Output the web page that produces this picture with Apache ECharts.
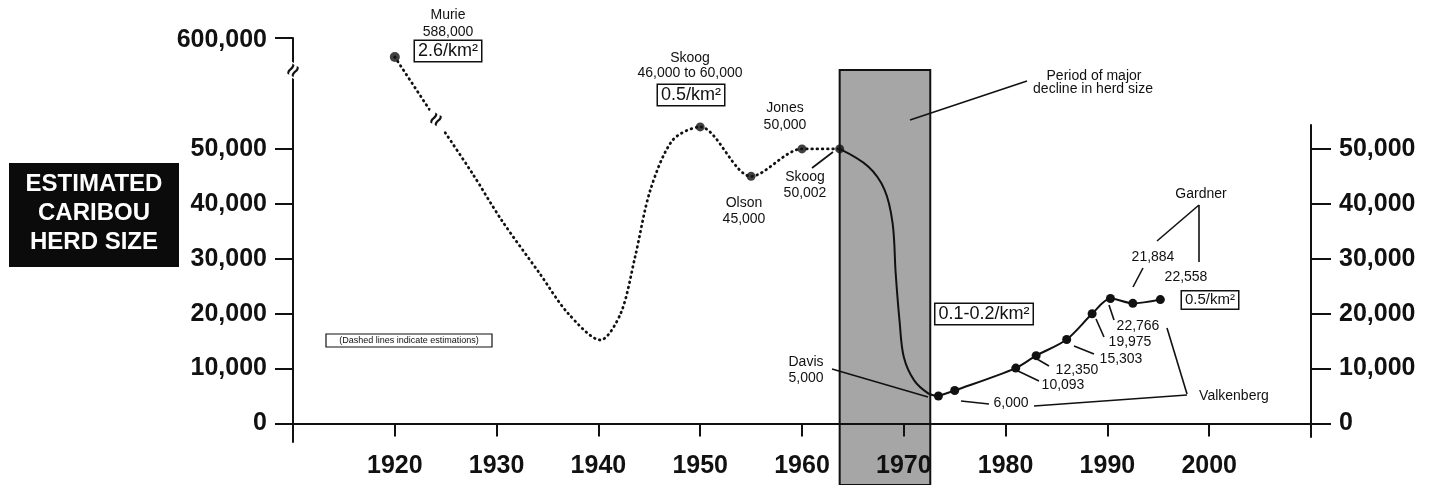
<!DOCTYPE html>
<html>
<head>
<meta charset="utf-8">
<title>Estimated caribou herd size</title>
<script src="https://cdn.jsdelivr.net/npm/echarts@6/dist/echarts.min.js"></script>
<style>
  html, body { margin: 0; padding: 0; background: #fff; }
  #chart { width: 1430px; height: 485px; }
</style>
</head>
<body>
<div id="chart"></div>
<script>
// --- values ---

// Murie's 1920 estimate sits above the axis break, on its own (compressed) scale
const murieYears = [1920, 1924.1];
const murieCounts = [588000, 548000];

// dotted estimate curve below the break
const estimateYears = [1924.1, 1927.6, 1930.5, 1934.2, 1937, 1940.2, 1942.2, 1943.6, 1945.1, 1947.3, 1950, 1955, 1960, 1963.7];
const estimateCounts = [55300, 45600, 37000, 27400, 20100, 15200, 20100, 30300, 42500, 51600, 54000, 45000, 50000, 50002];

// named estimates: Skoog, Olson, Jones, Skoog
const estimatePointYears = [1950, 1955, 1960, 1963.7];
const estimatePointCounts = [54000, 45000, 50000, 50002];

// solid curve through the period of major decline
const declineYears = [1963.7, 1966.5, 1968.1, 1968.9, 1969.2, 1969.6, 1970.0, 1971.0, 1972.4, 1973.4];
const declineCounts = [50002, 46800, 42600, 36500, 27400, 18300, 12100, 7900, 5500, 5000];

// counts after the decline (Davis, Valkenberg, Gardner)
const countYears = [1973.4, 1975, 1981, 1983, 1986, 1988.5, 1990.3, 1992.5, 1995.2];
const countValues = [5000, 6000, 10093, 12350, 15303, 19975, 22766, 21884, 22558];

const yearTicks = [1920, 1930, 1940, 1950, 1960, 1970, 1980, 1990, 2000];
const countTicks = [0, 10000, 20000, 30000, 40000, 50000];
const upperTicks = [600000];
const declinePeriod = [1963.7, 1972.6];

// --- layout ---
const FONT = '"Liberation Sans", Arial, sans-serif';
const INK = '#111';
const W = 1430, H = 485;
const PLOT_LEFT = 293, PLOT_RIGHT = 1311;
const TOP_Y = 38, LEFT_BOTTOM_Y = 442, ZERO_Y = 423.5;
const RIGHT_TOP_Y = 125, RIGHT_BOTTOM_Y = 437;
const PX_PER_COUNT = 54.92 / 10000;     // below the break
const PX_PER_COUNT_UPPER = 19 / 12000;  // above the break

const lowerMin = -(LEFT_BOTTOM_Y - ZERO_Y) / PX_PER_COUNT;
const lowerMax = (ZERO_Y - TOP_Y) / PX_PER_COUNT;
const upperMax = upperTicks[0];
const upperMin = upperMax - (LEFT_BOTTOM_Y - TOP_Y) / PX_PER_COUNT_UPPER;
const rightMin = -(RIGHT_BOTTOM_Y - ZERO_Y) / PX_PER_COUNT;
const rightMax = (ZERO_Y - RIGHT_TOP_Y) / PX_PER_COUNT;

const fmt = v => v.toLocaleString('en-US');
const pairs = (xs, ys) => xs.map((x, i) => [x, ys[i]]);

const tickLabel = { fontSize: 25, fontWeight: 'bold', color: INK, fontFamily: FONT };
const dotted = { color: INK, width: 2.8, type: [0.6, 4.6], cap: 'round' };

function text(x, y, s, size, extra) {
  return {
    type: 'text', x, y, z: 60, silent: true,
    style: Object.assign({
      text: s, fontSize: size, fontFamily: FONT, fill: INK,
      align: 'center', verticalAlign: 'middle'
    }, extra || {})
  };
}
function boxed(x, y, s, size) {
  return text(x, y, s, size, {
    borderColor: INK, borderWidth: 1.5, padding: [2, 3, 0, 3], backgroundColor: '#fff'
  });
}
function line(x1, y1, x2, y2) {
  return { type: 'line', z: 55, silent: true, shape: { x1, y1, x2, y2 }, style: { stroke: INK, lineWidth: 1.6 } };
}
function breakMark(x, y) {
  const el = text(x, y, '\u2248', 22, { fontWeight: 'bold', backgroundColor: '#fff', padding: [0, 1] });
  el.rotation = Math.PI / 3;
  return el;
}

const chart = echarts.init(document.getElementById('chart'));

const gridBase = { left: PLOT_LEFT, right: W - PLOT_RIGHT, outerBoundsMode: 'none', containLabel: false };

const option = {
  backgroundColor: '#fff',
  animation: false,
  grid: [
    Object.assign({ top: TOP_Y, bottom: H - LEFT_BOTTOM_Y }, gridBase),
    Object.assign({ top: RIGHT_TOP_Y, bottom: H - RIGHT_BOTTOM_Y }, gridBase),
    Object.assign({ top: 70, bottom: 0 }, gridBase)
  ],
  xAxis: [
    {
      type: 'value', gridIndex: 0, min: 1910, max: 2010, z: 10,
      splitLine: { show: false },
      axisLine: { onZero: true, onZeroAxisIndex: 0, lineStyle: { color: INK, width: 2 } },
      axisTick: { customValues: yearTicks, length: 13, lineStyle: { color: INK, width: 2 } },
      // labels are laid out from the grid's bottom edge, not from the zero line
      axisLabel: Object.assign({ customValues: yearTicks, margin: 12, formatter: v => String(v) }, tickLabel)
    },
    { type: 'value', gridIndex: 1, min: 1910, max: 2010, show: false },
    { type: 'value', gridIndex: 2, min: 1910, max: 2010, show: false }
  ],
  yAxis: [
    {
      type: 'value', gridIndex: 0, position: 'left', min: lowerMin, max: lowerMax, z: 10,
      splitLine: { show: false },
      axisLine: { show: true, lineStyle: { color: INK, width: 2 } },
      axisTick: { show: true, customValues: countTicks, length: 18, lineStyle: { color: INK, width: 2 } },
      axisLabel: Object.assign({ customValues: countTicks, margin: 26, formatter: v => fmt(v) }, tickLabel)
    },
    {
      type: 'value', gridIndex: 0, position: 'left', min: upperMin, max: upperMax, z: 10,
      splitLine: { show: false },
      axisLine: { show: false },
      axisTick: { show: true, customValues: upperTicks, length: 18, lineStyle: { color: INK, width: 2 } },
      axisLabel: Object.assign({ customValues: upperTicks, margin: 26, formatter: v => fmt(v), verticalAlign: 'top', padding: [-10, 0, 0, 0] }, tickLabel)
    },
    {
      type: 'value', gridIndex: 1, position: 'right', min: rightMin, max: rightMax, z: 10,
      splitLine: { show: false },
      axisLine: { show: true, lineStyle: { color: INK, width: 2 } },
      axisTick: { show: true, customValues: countTicks, length: 20, lineStyle: { color: INK, width: 2 } },
      axisLabel: Object.assign({ customValues: countTicks, margin: 28, formatter: v => fmt(v) }, tickLabel)
    },
    { type: 'value', gridIndex: 2, min: 0, max: 1, show: false }
  ],
  series: [
    {
      name: 'decline period', type: 'line', xAxisIndex: 2, yAxisIndex: 3, z: 1,
      data: [], silent: true,
      markArea: {
        silent: true,
        itemStyle: { color: '#a6a6a6', borderColor: INK, borderWidth: 2 },
        data: [[{ xAxis: declinePeriod[0] }, { xAxis: declinePeriod[1] }]]
      }
    },
    {
      name: 'Murie', type: 'line', xAxisIndex: 0, yAxisIndex: 1, z: 3,
      data: pairs(murieYears, murieCounts), showSymbol: false,
      lineStyle: dotted
    },
    {
      name: 'estimates', type: 'line', xAxisIndex: 0, yAxisIndex: 0, z: 3,
      data: pairs(estimateYears, estimateCounts), showSymbol: false, smooth: 0.3,
      lineStyle: dotted
    },
    {
      name: 'decline', type: 'line', xAxisIndex: 0, yAxisIndex: 0, z: 3,
      data: pairs(declineYears, declineCounts), showSymbol: false, smooth: 0.35,
      lineStyle: { color: INK, width: 2 }
    },
    {
      name: 'counts', type: 'line', xAxisIndex: 0, yAxisIndex: 0, z: 4,
      data: pairs(countYears, countValues), smooth: 0.3,
      symbol: 'circle', symbolSize: 9, itemStyle: { color: INK },
      lineStyle: { color: INK, width: 2 }
    },
    {
      name: 'estimate points', type: 'scatter', xAxisIndex: 0, yAxisIndex: 0, z: 4,
      data: pairs(estimatePointYears, estimatePointCounts),
      symbolSize: 9, itemStyle: { color: INK }
    },
    {
      name: 'Murie point', type: 'scatter', xAxisIndex: 0, yAxisIndex: 1, z: 4,
      data: [[murieYears[0], murieCounts[0]]],
      symbolSize: 10, itemStyle: { color: INK }
    }
  ],
  graphic: [
    // title block
    { type: 'rect', z: 50, silent: true, shape: { x: 9, y: 163, width: 170, height: 104 }, style: { fill: '#0b0b0b' } },
    text(94, 213, 'ESTIMATED\nCARIBOU\nHERD SIZE', 24, { fill: '#fff', fontWeight: 'bold', lineHeight: 29 }),

    // note
    { type: 'rect', z: 50, silent: true, shape: { x: 326, y: 334, width: 166, height: 13 }, style: { fill: '#fff', stroke: INK, lineWidth: 1.2 } },
    text(409, 341, '(Dashed lines indicate estimations)', 9),

    // axis breaks
    breakMark(294, 71),
    breakMark(437, 120),

    // Murie
    text(448, 15, 'Murie', 14),
    text(448, 32, fmt(murieCounts[0]), 14),
    boxed(448, 51, '2.6/km\u00b2', 18),

    // Skoog (1950)
    text(690, 58, 'Skoog', 14),
    text(690, 73, '46,000 to 60,000', 14),
    boxed(691, 95, '0.5/km\u00b2', 18),

    // Jones, Olson, Skoog
    text(785, 108, 'Jones', 14),
    text(785, 125, fmt(estimatePointCounts[2]), 14),
    text(744, 203, 'Olson', 14),
    text(744, 219, fmt(estimatePointCounts[1]), 14),
    text(805, 177, 'Skoog', 14),
    text(805, 193, fmt(estimatePointCounts[3]), 14),
    line(812, 168, 833, 152),

    // Davis
    text(806, 362, 'Davis', 14),
    text(806, 378, fmt(countValues[0]), 14),
    line(832, 369, 928, 397),

    // decline period note
    text(1094, 76, 'Period of major', 14),
    text(1093, 89, 'decline in herd size', 14),
    line(910, 120, 1027, 81),
    boxed(984, 314, '0.1-0.2/km\u00b2', 18),

    // Valkenberg counts
    text(1011, 403, fmt(countValues[1]), 14),
    line(961, 401, 989, 404),
    line(1034, 406, 1187, 395),
    text(1063, 385, fmt(countValues[2]), 14),
    line(1018, 371, 1039, 381),
    text(1077, 370, fmt(countValues[3]), 14),
    line(1037, 359, 1049, 366),
    text(1121, 359, fmt(countValues[4]), 14),
    line(1074, 346, 1094, 354),
    text(1130, 342, fmt(countValues[5]), 14),
    line(1096, 319, 1104, 337),
    text(1138, 326, fmt(countValues[6]), 14),
    line(1109, 305, 1114, 320),
    text(1234, 396, 'Valkenberg', 14),
    line(1187, 394, 1167, 328),

    // Gardner counts
    text(1201, 194, 'Gardner', 14),
    line(1199, 205, 1157, 241),
    line(1199, 205, 1199, 262),
    text(1153, 257, fmt(countValues[7]), 14),
    line(1143, 268, 1133, 287),
    text(1186, 277, fmt(countValues[8]), 14),
    boxed(1210, 300, '0.5/km\u00b2', 15)
  ]
};

chart.setOption(option);
</script>
</body>
</html>
